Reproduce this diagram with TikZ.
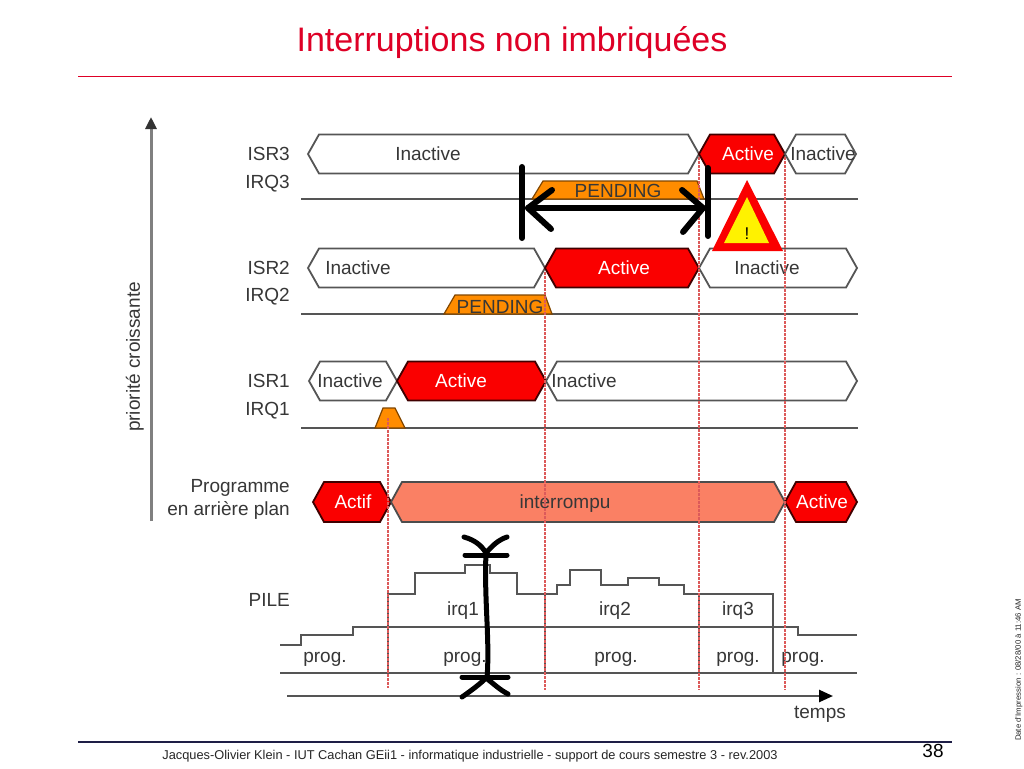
\documentclass[tikz,border=0pt]{standalone}
\usepackage{fontspec}
\setmainfont{Liberation Sans}
\usetikzlibrary{arrows.meta}
\definecolor{ttl}{RGB}{222,0,38}
\definecolor{txt}{RGB}{55,55,55}
\definecolor{gline}{RGB}{85,85,85}
\definecolor{actred}{RGB}{250,0,0}
\definecolor{salmon}{RGB}{250,128,100}
\definecolor{pend}{RGB}{255,140,0}
\definecolor{dashred}{RGB}{220,90,90}
\definecolor{foot}{RGB}{30,30,70}
\newcommand{\tbus}[5]{%
\draw[#4] (#1,#3) -- (#1+11,#3-#5) -- (#2-11,#3-#5) -- (#2,#3) -- (#2-11,#3+#5) -- (#1+11,#3+#5) -- cycle;}
\begin{document}
\begin{tikzpicture}[x=1pt,y=-1pt,
  every node/.style={text height=13.6pt,text depth=0pt},
  lbl/.style={anchor=east,text=txt,font=\fontsize{19}{21}\selectfont,inner sep=0pt},
  bustxt/.style={text=txt,font=\fontsize{19}{21}\selectfont,inner sep=0pt},
  wtxt/.style={text=white,font=\fontsize{19}{21}\selectfont,inner sep=0pt},
  inact/.style={draw=gline,line width=1.8pt,fill=white,line join=miter},
  actb/.style={draw=black!75!red,line width=1.8pt,fill=actred},
  intb/.style={draw=black!70,line width=1.8pt,fill=salmon},
  pendb/.style={draw=black!50!pend,line width=1.2pt,fill=pend},
  sig/.style={draw=gline,line width=1.8pt},
  vdash/.style={draw=dashred,line width=1.4pt,dash pattern=on 2.5pt off 1.5pt},
  dmark/.style={draw=black,line width=6pt,line cap=round,line join=round},
  mk/.style={draw=black,line width=5pt,line cap=round,line join=round}]
\useasboundingbox[fill=white] (0,0) rectangle (1024,768);
% title
\node[text=ttl,font=\fontsize{34}{38}\selectfont,inner sep=0pt,text height=24.3pt] (title) at (512,39) {Interruptions non imbriquées};
\draw[ttl,line width=1pt] (78,76) -- (952,76);
% priority axis
\coordinate (pbot) at (151,521);
\coordinate (ptop) at (151,117);
\draw[gray,line width=3pt,-{Triangle[length=12pt,width=11pt,color=black!80]}] (pbot) -- (ptop);
\node[rotate=90,text=txt,font=\fontsize{19}{21}\selectfont,inner sep=0pt] (prio) at (133,357) {priorité croissante};
% labels
\node[lbl] (lisr3) at (290,154) {ISR3};
\node[lbl] (lirq3) at (290,182) {IRQ3};
\node[lbl] (lisr2) at (290,268) {ISR2};
\node[lbl] (lirq2) at (290,295) {IRQ2};
\node[lbl] (lisr1) at (290,381) {ISR1};
\node[lbl] (lirq1) at (290,409) {IRQ1};
\node[lbl] (lprog1) at (290,486) {Programme};
\node[lbl] (lprog2) at (290,509) {en arrière plan};
\node[lbl] (lpile) at (290,600) {PILE};
% IRQ lines and pending
\draw[sig] (301,199) -- (858,199);
\draw[pendb] (532,199) -- (543,181) -- (697,181) -- (704,199) -- cycle;
\node[bustxt] (pend3) at (618,191) {PENDING};
\draw[sig] (301,314) -- (858,314);
\draw[pendb] (444,314) -- (455,295) -- (545,295) -- (552,314) -- cycle;
\node[bustxt] (pend2) at (500,307) {PENDING};
\draw[sig] (301,428) -- (858,428);
\draw[pendb] (375,428) -- (383,408) -- (395,408) -- (405,428) -- cycle;
% ISR3
\tbus{308}{699}{154}{inact}{19.5}
\tbus{699}{785}{154}{actb}{19.5}
\tbus{785}{856}{154}{inact}{19.5}
\node[bustxt] (i3a) at (428,154) {Inactive};
\node[wtxt] (i3b) at (748,154) {Active};
\node[bustxt] (i3c) at (823,154) {Inactive};
% ISR2
\tbus{308}{545}{268}{inact}{19.5}
\tbus{545}{699}{268}{actb}{19.5}
\tbus{699}{857}{268}{inact}{19.5}
\node[bustxt] (i2a) at (358,268) {Inactive};
\node[wtxt] (i2b) at (624,268) {Active};
\node[bustxt] (i2c) at (767,268) {Inactive};
% ISR1
\tbus{309}{397}{381}{inact}{19.5}
\tbus{397}{546}{381}{actb}{19.5}
\tbus{546}{857}{381}{inact}{19.5}
\node[bustxt] (i1a) at (350,381) {Inactive};
\node[wtxt] (i1b) at (461,381) {Active};
\node[bustxt] (i1c) at (584,381) {Inactive};
% programme
\tbus{313}{391}{502}{actb}{20}
\tbus{391}{785}{502}{intb}{20}
\tbus{785}{857}{502}{actb}{20}
\node[wtxt] (pa) at (353,502) {Actif};
\node[bustxt] (pb) at (565,502) {interrompu};
\node[wtxt] (pc) at (822,502) {Active};
% stack
\draw[sig] (280,673) -- (857,673);
\draw[sig] (280,645) -- (301,645) -- (301,635) -- (353,635) -- (353,627) -- (798,627) -- (798,635) -- (857,635);
\draw[sig] (388,673) -- (388,594) -- (415,594) -- (415,573) -- (465,573) -- (465,565) -- (490,565) -- (490,573) -- (517,573) -- (517,594) -- (557,594) -- (557,585) -- (570,585) -- (570,570) -- (601,570) -- (601,585) -- (628,585) -- (628,578) -- (659,578) -- (659,585) -- (684,585) -- (684,594) -- (773,594) -- (773,673);
\draw[sig] (545,594) -- (545,673);
\draw[sig] (699,594) -- (699,673);
\node[bustxt] (s1) at (463,609) {irq1};
\node[bustxt] (s2) at (615,609) {irq2};
\node[bustxt] (s3) at (738,609) {irq3};
\node[bustxt] (p1) at (325,656) {prog.};
\node[bustxt] (p2) at (465,656) {prog.};
\node[bustxt] (p3) at (616,656) {prog.};
\node[bustxt] (p4) at (738,656) {prog.};
\node[bustxt] (p5) at (803,656) {prog.};
% time axis
\coordinate (t0) at (287,696);
\coordinate (t1) at (833,696);
\draw[gline,line width=2.5pt,-{Triangle[length=14pt,width=12pt,color=black]}] (t0) -- (t1);
\node[bustxt] (temps) at (820,712) {temps};
% dashed verticals
\draw[vdash] (388,418) -- (388,688);
\draw[vdash] (545,272) -- (545,690);
\draw[vdash] (699,157) -- (699,690);
\draw[vdash] (785,157) -- (785,690);
% pending duration marker
\coordinate (da) at (528,208);
\coordinate (db) at (703,208);
\draw[dmark] (522,167) -- (522,238);
\draw[dmark] (708,168) -- (708,236);
\draw[dmark] (da) -- (db);
\draw[dmark] (552,190) -- (da) -- (551,229);
\draw[dmark] (682,190) -- (db) -- (683,232);
% warning triangle
\draw[fill=actred,draw=none] (747,180) -- (783,251) -- (712,251) -- cycle;
\draw[fill=yellow,draw=none] (747,197) -- (769,243) -- (724,243) -- cycle;
\node[font=\fontsize{17}{18}\selectfont,inner sep=0pt,text height=12pt] (warn) at (747,233) {!};
% stack break marker
\coordinate (ka) at (486,553);
\coordinate (kb) at (487,678);
\draw[mk] (ka) .. controls (484,600) and (490,640) .. (kb);
\draw[mk] (465,555) -- (507,555);
\draw[mk] (464,537) .. controls (475,540) and (482,546) .. (486,553) .. controls (492,546) and (498,540) .. (507,537);
\draw[mk] (462,677) -- (508,677);
\draw[mk] (462,697) .. controls (472,690) and (480,684) .. (486,678) .. controls (494,684) and (500,690) .. (508,694);
% footer
\draw[foot,line width=1.5pt] (78,742) -- (952,742);
\node[text=black!85,font=\fontsize{12.8}{14}\selectfont,inner sep=0pt,text height=9.2pt] (ftxt) at (470,755) {Jacques-Olivier Klein - IUT Cachan GEii1 - informatique industrielle - support de cours semestre 3 - rev.2003};
\node[text=black,font=\fontsize{19}{20}\selectfont,inner sep=0pt,text height=13.6pt] (pnum) at (933,751) {38};
\node[rotate=90,text=black!85,font=\fontsize{7.8}{9}\selectfont,inner sep=0pt,text height=5.6pt] (date) at (1018,670) {Date d'Impression : 08/28/00 à 11:46 AM};
\end{tikzpicture}
\end{document}
